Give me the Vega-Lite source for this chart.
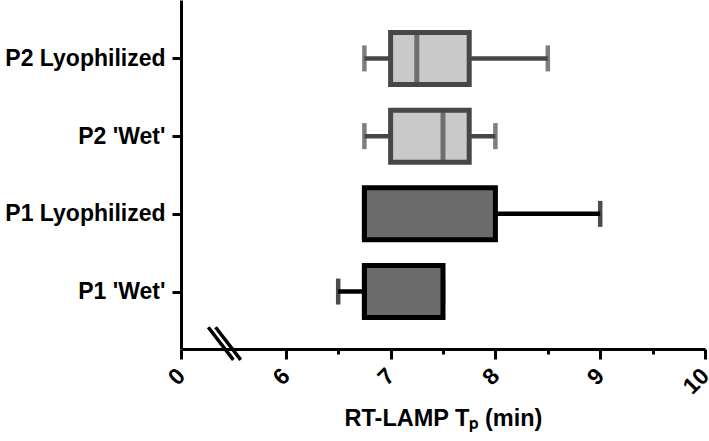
{
  "$schema": "https://vega.github.io/schema/vega-lite/v6.json",
  "width": 524,
  "height": 349,
  "autosize": {"type": "none"},
  "padding": {"left": 181, "top": 0, "right": 4, "bottom": 92},
  "background": "white",
  "config": {
    "view": {"stroke": null},
    "font": "Liberation Sans"
  },
  "datasets": {
    "boxes": [
      {"group": "P2 Lyophilized", "primer": "P2", "pos": 4, "min": 6.75, "q1": 7.0, "median": 7.25, "q3": 7.75, "max": 8.5},
      {"group": "P2 'Wet'", "primer": "P2", "pos": 3, "min": 6.75, "q1": 7.0, "median": 7.5, "q3": 7.75, "max": 8.0},
      {"group": "P1 Lyophilized", "primer": "P1", "pos": 2, "min": 6.75, "q1": 6.75, "median": 6.75, "q3": 8.0, "max": 9.0},
      {"group": "P1 'Wet'", "primer": "P1", "pos": 1, "min": 6.5, "q1": 6.75, "median": 6.75, "q3": 7.5, "max": 7.5}
    ],
    "breaks": [
      {"x": 5.26, "x2": 5.5, "y": 0.54, "y2": 0.12},
      {"x": 5.33, "x2": 5.57, "y": 0.54, "y2": 0.12}
    ]
  },
  "layer": [
    {
      "data": {"name": "boxes"},
      "mark": {"type": "rule", "strokeWidth": 4.5},
      "encoding": {
        "x": {"field": "min", "type": "quantitative"},
        "x2": {"field": "max"},
        "y": {"field": "pos", "type": "quantitative"},
        "color": {"field": "primer", "type": "nominal", "scale": {"domain": ["P1", "P2"], "range": ["#000000", "#474747"]}, "legend": null}
      }
    },
    {
      "data": {"name": "boxes"},
      "mark": {"type": "tick", "orient": "vertical", "size": 26, "thickness": 4.5},
      "encoding": {
        "x": {"field": "min", "type": "quantitative"},
        "y": {"field": "pos", "type": "quantitative"},
        "color": {"field": "primer", "type": "nominal", "legend": null}
      }
    },
    {
      "data": {"name": "boxes"},
      "mark": {"type": "tick", "orient": "vertical", "size": 26, "thickness": 4.5},
      "encoding": {
        "x": {"field": "max", "type": "quantitative"},
        "y": {"field": "pos", "type": "quantitative"},
        "color": {"field": "primer", "type": "nominal", "legend": null}
      }
    },
    {
      "data": {"name": "boxes"},
      "mark": {"type": "bar", "orient": "horizontal", "size": 52, "strokeWidth": 5},
      "encoding": {
        "x": {"field": "q1", "type": "quantitative"},
        "x2": {"field": "q3"},
        "y": {"field": "pos", "type": "quantitative"},
        "fill": {"field": "primer", "type": "nominal", "scale": {"domain": ["P1", "P2"], "range": ["#6b6b6b", "#c9c9c9"]}, "legend": null},
        "stroke": {"field": "primer", "type": "nominal", "scale": {"domain": ["P1", "P2"], "range": ["#000000", "#474747"]}, "legend": null}
      }
    },
    {
      "data": {"name": "boxes"},
      "mark": {"type": "tick", "orient": "vertical", "size": 52, "thickness": 5},
      "encoding": {
        "x": {"field": "median", "type": "quantitative"},
        "y": {"field": "pos", "type": "quantitative"},
        "color": {"field": "primer", "type": "nominal", "legend": null}
      }
    },
    {
      "data": {"name": "breaks"},
      "mark": {"type": "rule", "strokeWidth": 3.5, "color": "black", "clip": false},
      "encoding": {
        "x": {"field": "x", "type": "quantitative"},
        "x2": {"field": "x2"},
        "y": {"field": "y", "type": "quantitative"},
        "y2": {"field": "y2"}
      }
    }
  ],
  "encoding": {
    "x": {
      "type": "quantitative",
      "scale": {"domain": [5, 10], "nice": false, "zero": false},
      "axis": {
        "title": "RT-LAMP Tₚ (min)",
        "titleFont": "Liberation Sans",
        "titleFontSize": 23.5,
        "titleFontWeight": "bold",
        "titleColor": "black",
        "titlePadding": 8,
        "values": [5, 6, 6.5, 7, 7.5, 8, 8.5, 9, 9.5, 10],
        "labelExpr": "datum.value == 5 ? '0' : (datum.value % 1 == 0 ? format(datum.value, 'd') : '')",
        "labelAngle": -45,
        "labelAlign": "right",
        "labelBaseline": "middle",
        "labelFontSize": 23,
        "labelFontWeight": "bold",
        "labelColor": "black",
        "labelPadding": 13,
        "labelDx": -5,
        "labelFlush": false,
        "labelOverlap": false,
        "grid": false,
        "domainColor": "black",
        "domainWidth": 3,
        "tickColor": "black",
        "tickWidth": 3,
        "tickSize": {"condition": {"test": "datum.value % 1 != 0", "value": 5}, "value": 10}
      }
    },
    "y": {
      "type": "quantitative",
      "scale": {"domain": [0.325, 4.6875], "nice": false, "zero": false},
      "axis": {
        "title": null,
        "values": [1, 2, 3, 4],
        "labelExpr": "[\"\", \"P1 'Wet'\", \"P1 Lyophilized\", \"P2 'Wet'\", \"P2 Lyophilized\"][datum.value]",
        "labelFontSize": 23,
        "labelFontWeight": "bold",
        "labelColor": "black",
        "labelPadding": 7,
        "grid": false,
        "domainColor": "black",
        "domainWidth": 3,
        "tickColor": "black",
        "tickWidth": 3,
        "tickSize": 9
      }
    }
  }
}
